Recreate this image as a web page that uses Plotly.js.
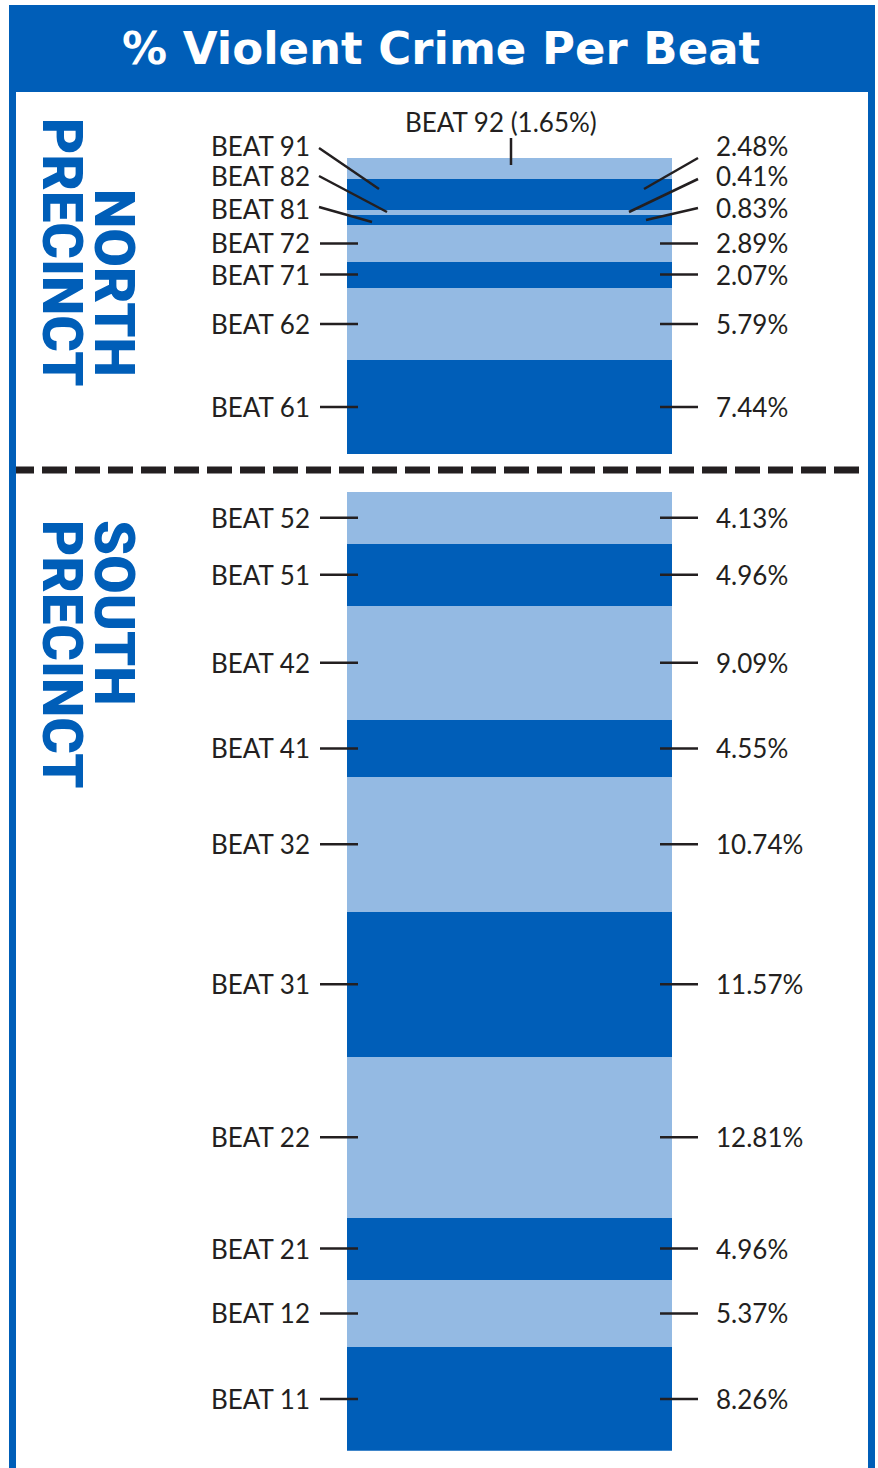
<!DOCTYPE html>
<html>
<head>
<meta charset="utf-8">
<script src="https://cdn.plot.ly/plotly-3.0.1.min.js"></script>
<style>
  html, body { margin: 0; padding: 0; background: #ffffff; }
  #chart { width: 878px; height: 1468px; }
</style>
</head>
<body>
<div id="chart"></div>
<script>
// ---------- DATA ----------
const northBeats = ['BEAT 92', 'BEAT 91', 'BEAT 82', 'BEAT 81', 'BEAT 72', 'BEAT 71', 'BEAT 62', 'BEAT 61'];
const northPct   = [1.65, 2.48, 0.41, 0.83, 2.89, 2.07, 5.79, 7.44];
const southBeats = ['BEAT 52', 'BEAT 51', 'BEAT 42', 'BEAT 41', 'BEAT 32', 'BEAT 31', 'BEAT 22', 'BEAT 21', 'BEAT 12', 'BEAT 11'];
const southPct   = [4.13, 4.96, 9.09, 4.55, 10.74, 11.57, 12.81, 4.96, 5.37, 8.26];
const precinctNames = ['NORTH', 'SOUTH'];
const chartTitle = '% Violent Crime Per Beat';

// ---------- LAYOUT / STYLE ----------
const W = 878, H = 1468;
const DARK = '#005EB8', LIGHT = '#94BAE3', INK = '#231F20';
const GAP = 3.05;                 // visual gap between precincts (in % units)
const BAR_TOP_PX = 158, BAR_BOTTOM_PX = 1450.7;
const BAR_LEFT_PX = 347, BAR_RIGHT_PX = 672;
const LABEL_FONT = { family: 'Lato, "Open Sans", sans-serif', size: 26, color: INK };

const sum = a => a.reduce((s, v) => s + v, 0);
const southTotal = sum(southPct), northTotal = sum(northPct);
const yMax = southTotal + GAP + northTotal;
const px = x => x / W;           // paper x from pixel
const py = y => 1 - y / H;       // paper y from pixel
const Y_DOM = [py(BAR_BOTTOM_PX), py(BAR_TOP_PX)];
const y2paper = v => Y_DOM[0] + v / yMax * (Y_DOM[1] - Y_DOM[0]);  // same mapping as the y axis

// build stacked segments (top-to-bottom order inside each precinct)
const beats = [], vals = [], bases = [], colors = [];
function addGroup(names, pcts, offset) {
  pcts.forEach((v, i) => {
    const below = sum(pcts.slice(i + 1));
    beats.push(names[i]); vals.push(v); bases.push(offset + below);
    colors.push(i % 2 === 0 ? LIGHT : DARK);
  });
}
addGroup(northBeats, northPct, southTotal + GAP);
addGroup(southBeats, southPct, 0);

const trace = {
  type: 'bar',
  x: beats.map(() => 0),
  y: vals,
  base: bases,
  width: 1,
  marker: { color: colors, line: { width: 0 } },
  hovertext: beats.map((b, i) => b + ': ' + vals[i].toFixed(2) + '%'),
  hoverinfo: 'text',
  showlegend: false
};

// special call-outs for the thin segments at the top (pixel positions of leader ends)
const topCallouts = {
  'BEAT 91': { labelPx: 146, rlabelPx: 146, left: [[319, 148], [379, 189]], right: [[698, 158], [644, 189]] },
  'BEAT 82': { labelPx: 176, rlabelPx: 176, left: [[319, 176], [387, 212]], right: [[698, 179], [629, 212]] },
  'BEAT 81': { labelPx: 209, rlabelPx: 208, left: [[319, 207], [372, 222]], right: [[698, 208], [646, 220]] }
};

const shapes = [];
const annotations = [];
const lineStyle = { color: INK, width: 2.5 };

// dashed separator
shapes.push({ type: 'line', xref: 'paper', yref: 'paper', x0: px(9), x1: px(862), y0: py(470), y1: py(470),
  line: { color: INK, width: 7, dash: '25px,8px' } });

function pline(x0, y0, x1, y1) {
  shapes.push({ type: 'line', xref: 'paper', yref: 'paper', x0: px(x0), y0: py(y0), x1: px(x1), y1: py(y1), line: lineStyle });
}
function label(xPx, yPaper, text, anchor) {
  annotations.push({ xref: 'paper', yref: 'paper', x: px(xPx), y: yPaper, text: text, showarrow: false,
    font: LABEL_FONT, xanchor: anchor, yanchor: 'middle' });
}

beats.forEach((b, i) => {
  const mid = y2paper(bases[i] + vals[i] / 2);
  const pctText = vals[i].toFixed(2) + '%';
  if (b === 'BEAT 92') {
    label(501, py(122), b + ' (' + pctText + ')', 'center');
    pline(511, 138, 511, 165);
    return;
  }
  const c = topCallouts[b];
  if (c) {
    label(312, py(c.labelPx), b, 'right');
    label(714, py(c.rlabelPx), pctText, 'left');
    pline(c.left[0][0], c.left[0][1], c.left[1][0], c.left[1][1]);
    pline(c.right[0][0], c.right[0][1], c.right[1][0], c.right[1][1]);
    return;
  }
  label(312, mid, b, 'right');
  label(714, mid, pctText, 'left');
  shapes.push({ type: 'line', xref: 'paper', yref: 'paper', x0: px(320), x1: px(358), y0: mid, y1: mid, line: lineStyle });
  shapes.push({ type: 'line', xref: 'paper', yref: 'paper', x0: px(660), x1: px(698), y0: mid, y1: mid, line: lineStyle });
});

// frame
const frame = [
  [9, 5, 875, 92],     // title band
  [9, 5, 16, H + 5],   // left border
  [868, 5, 875, H + 5] // right border
];
frame.forEach(r => shapes.push({ type: 'rect', xref: 'paper', yref: 'paper', x0: px(r[0]), y0: py(r[1]),
  x1: px(r[2]), y1: py(r[3]), fillcolor: DARK, line: { width: 0 }, layer: 'above' }));

// title
annotations.push({ xref: 'paper', yref: 'paper', x: px(441), y: py(49), text: chartTitle, showarrow: false,
  font: { family: '"DejaVu Sans", sans-serif', size: 45, color: '#ffffff', weight: 'bold' }, xanchor: 'center', yanchor: 'middle' });

// precinct labels (rotated)
const PREC_FONT = { family: 'Roboto, "Liberation Sans", sans-serif', size: 56, color: DARK, weight: 900 };
const precinctPos = [
  { name: [114, 283], precinct: [62, 252] },
  { name: [114, 613], precinct: [62, 654] }
];
precinctNames.forEach((n, i) => {
  const p = precinctPos[i];
  annotations.push({ xref: 'paper', yref: 'paper', x: px(p.name[0]), y: py(p.name[1]), text: n, textangle: 90,
    showarrow: false, font: PREC_FONT, xanchor: 'center', yanchor: 'middle' });
  annotations.push({ xref: 'paper', yref: 'paper', x: px(p.precinct[0]), y: py(p.precinct[1]), text: 'PRECINCT', textangle: 90,
    showarrow: false, font: PREC_FONT, xanchor: 'center', yanchor: 'middle' });
});

const layout = {
  width: W, height: H,
  margin: { l: 0, r: 0, t: 0, b: 0, pad: 0 },
  paper_bgcolor: '#ffffff', plot_bgcolor: 'rgba(0,0,0,0)',
  showlegend: false,
  bargap: 0,
  xaxis: { domain: [px(BAR_LEFT_PX), px(BAR_RIGHT_PX)], range: [-0.5, 0.5], visible: false, fixedrange: true },
  yaxis: { domain: Y_DOM, range: [0, yMax], visible: false, fixedrange: true },
  shapes: shapes,
  annotations: annotations
};

Plotly.newPlot('chart', [trace], layout, { displayModeBar: false, staticPlot: true });
</script>
</body>
</html>
